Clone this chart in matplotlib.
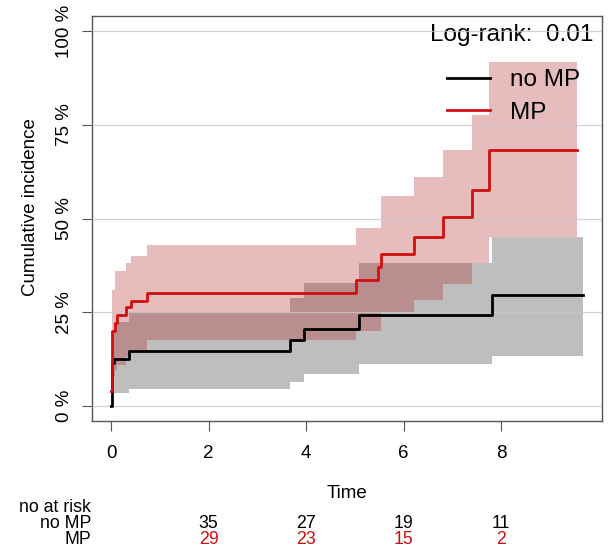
import numpy as np
import matplotlib.pyplot as plt
from matplotlib.transforms import blended_transform_factory

plt.rcParams['font.family'] = ['Liberation Sans', 'DejaVu Sans']

# 无MP组：时间、累计发生率及置信区间（%）
t_nomp = [0, 0.02, 0.06, 0.37, 3.67, 3.95, 5.09, 7.82, 9.69]
ci_nomp = [0, 11.5, 12.6, 14.6, 17.6, 20.5, 24.3, 29.6, 29.6]
lo_nomp = [0, 3.5, 3.5, 4.6, 6.5, 8.6, 11.2, 13.4, 13.4]
hi_nomp = [0, 19.5, 22.5, 25.0, 28.8, 32.8, 38.1, 45.2, 45.2]

# MP组
t_mp = [0, 0.01, 0.08, 0.12, 0.30, 0.40, 0.74, 5.02, 5.47, 5.53, 6.22, 6.80, 7.41, 7.75, 9.56]
ci_mp = [4.0, 20.0, 22.1, 24.2, 26.3, 28.0, 30.1, 33.6, 37.0, 40.5, 45.0, 50.3, 57.7, 68.2, 68.2]
lo_mp = [4.0, 8.0, 9.5, 11.0, 13.0, 15.0, 17.5, 19.9, 19.9, 25.2, 28.3, 32.6, 38.1, 45.0, 45.0]
hi_mp = [4.0, 31.0, 35.9, 35.9, 38.1, 40.0, 43.0, 47.5, 47.5, 55.9, 61.2, 68.3, 77.6, 91.7, 91.7]

# 风险人数表
risk_times = [2, 4, 6, 8]
risk_nomp = [35, 27, 19, 11]
risk_mp = [29, 23, 15, 2]

x_ticks = [0, 2, 4, 6, 8]
y_ticks = [0, 25, 50, 75, 100]
y_labels = ['0 %', '25 %', '50 %', '75 %', '100 %']

red = '#d10f0f'
band_red = '#b22222'
W, H = 609, 554

fig = plt.figure(figsize=(W / 100, H / 100), dpi=100)
ax = fig.add_axes([92 / W, 1 - 421 / H, 510 / W, 405 / H])

# 置信带
ax.fill_between(t_nomp, lo_nomp, hi_nomp, step='post', color='#bebebe', lw=0, zorder=1)
ax.fill_between(t_mp, lo_mp, hi_mp, step='post', color=band_red, alpha=0.3, lw=0, zorder=1.2)

# 累计发生率曲线
ax.step(t_nomp, ci_nomp, where='post', color='black', lw=2, zorder=3, label='no MP')
ax.step(t_mp, ci_mp, where='post', color=red, lw=2, zorder=3, label='MP')

ax.set_xlim(-0.39, 10.07)
ax.set_ylim(-4, 104)
ax.set_xticks(x_ticks)
ax.set_yticks(y_ticks)
ax.set_yticklabels(y_labels, rotation=90, va='center')
ax.tick_params(axis='both', length=7, width=0.8, color='#555555', labelsize=13.5)
ax.tick_params(axis='x', pad=10)
ax.tick_params(axis='y', pad=7)
ax.yaxis.grid(True, color='#c8c8c8', lw=0.9, alpha=0.8)
ax.set_axisbelow(False)
for s in ax.spines.values():
    s.set_color('#555555')
    s.set_linewidth(1)

ax.set_xlabel('Time', fontsize=13.5, labelpad=17)
fig.text(31 / W, 1 - 207 / H, 'Cumulative incidence', rotation=90,
         ha='center', va='center', fontsize=13.5)

ax.text((593 - 92) / 510, (421 - 35) / 405, 'Log-rank:  0.01', transform=ax.transAxes,
        ha='right', va='center', fontsize=17.5, zorder=1)

ax.legend(loc='upper left', bbox_to_anchor=(447 / W, 1 - 69 / H), bbox_transform=fig.transFigure,
          frameon=False, fontsize=17.5, handlelength=1.77, handletextpad=0.82,
          borderpad=0, borderaxespad=0, labelspacing=0.45)

# 风险人数表
tr = blended_transform_factory(ax.transData, fig.transFigure)
fs = 12.8
fig.text(91 / W, 1 - 507 / H, 'no at risk', ha='right', va='center', fontsize=fs)
fig.text(91 / W, 1 - 523 / H, 'no MP', ha='right', va='center', fontsize=fs)
fig.text(91 / W, 1 - 539 / H, 'MP', ha='right', va='center', fontsize=fs)
for t, n1, n2 in zip(risk_times, risk_nomp, risk_mp):
    ax.text(t, 1 - 523 / H, str(n1), transform=tr, ha='center', va='center',
            fontsize=fs, color='black', clip_on=False)
    ax.text(t, 1 - 539 / H, str(n2), transform=tr, ha='center', va='center',
            fontsize=fs, color=red, clip_on=False)

fig.savefig('out.png', dpi=100)
